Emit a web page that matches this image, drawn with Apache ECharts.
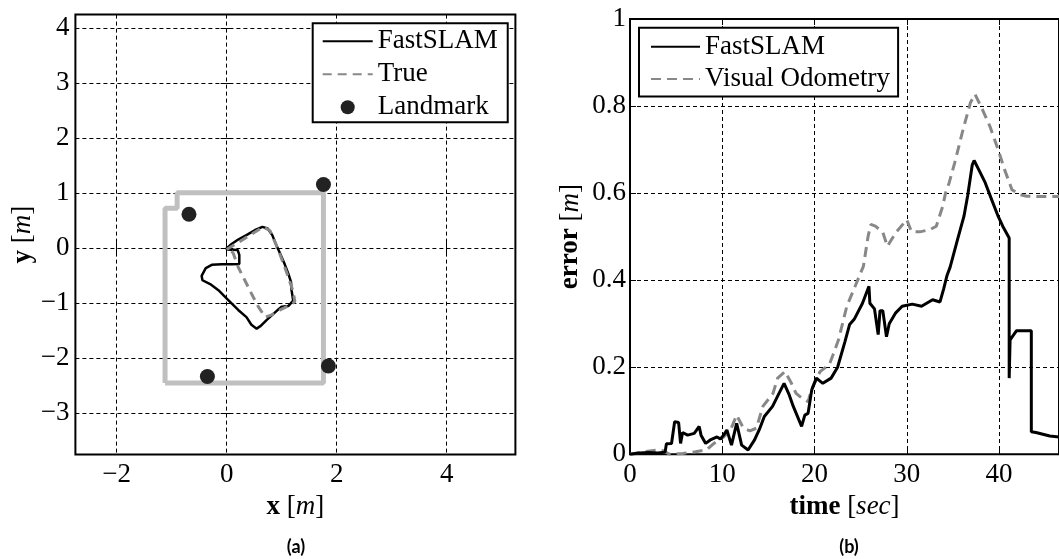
<!DOCTYPE html>
<html>
<head>
<meta charset="utf-8">
<script src="https://cdn.jsdelivr.net/npm/echarts@6/dist/echarts.min.js"></script>
<style>
    html, body { margin: 0; padding: 0; background: #fff; }
    #slamChart { width: 1059px; height: 559px; }
</style>
</head>
<body>
<div id="slamChart"></div>
<script>
// (a) trajectory, metres
var fastX = [0.0, 0.2, 0.23, 0.23, 0.09, -0.09, -0.27, -0.38, -0.455, -0.44, -0.30, -0.15, 0.03, 0.21, 0.36, 0.45, 0.545, 0.62, 0.73, 0.83, 0.94, 1.0, 1.12, 1.21, 1.18, 1.17, 1.13, 1.06, 0.97, 0.89, 0.83, 0.745, 0.65, 0.51, 0.36, 0.21, 0.09, -0.02];
var fastY = [-0.02, -0.03, -0.12, -0.285, -0.29, -0.29, -0.30, -0.36, -0.50, -0.58, -0.65, -0.76, -0.94, -1.12, -1.25, -1.39, -1.46, -1.41, -1.30, -1.21, -1.11, -1.06, -1.05, -0.95, -0.76, -0.61, -0.485, -0.30, -0.09, 0.09, 0.24, 0.36, 0.39, 0.33, 0.24, 0.16, 0.08, -0.02];
var trueX = [0.0, 0.15, 0.39, 0.665, 0.79, 0.85, 0.94, 1.03, 1.12, 1.21, 1.24, 1.12, 0.97, 0.82, 0.70, 0.575, 0.45, 0.33, 0.21, 0.12, 0.06, 0.0];
var trueY = [-0.02, 0.07, 0.22, 0.39, 0.32, 0.18, -0.03, -0.27, -0.52, -0.79, -0.97, -1.05, -1.12, -1.21, -1.25, -1.06, -0.82, -0.58, -0.34, -0.09, -0.02, -0.02];
var boxX = [-1.12, -1.12, -0.9, -0.9, 1.76, 1.76, -1.12];
var boxY = [-2.45, 0.73, 0.73, 1.01, 1.01, -2.45, -2.45];
var landmarkX = [1.76, -0.685, -0.35, 1.85];
var landmarkY = [1.16, 0.62, -2.33, -2.14];
var xTicksA = [-2, 0, 2, 4];
var yTicksA = [-3, -2, -1, 0, 1, 2, 3, 4];

// (b) error over time
var fastTime = [0, 1, 2, 3, 3.8, 3.95, 4.5, 4.84, 5.27, 5.48, 5.7, 6.25, 6.96, 7.5, 7.7, 8.2, 8.7, 9.44, 9.8, 10.15, 10.5, 11.0, 11.56, 12.1, 12.8, 13.5, 14.0, 14.56, 15.45, 16.15, 16.7, 17.25, 17.7, 18.6, 18.95, 19.3, 19.7, 20.2, 20.9, 21.8, 22.5, 23.3, 23.8, 24.3, 25.2, 25.9, 26.0, 26.5, 26.9, 27.1, 27.4, 27.8, 28.1, 28.8, 29.5, 30.6, 31.6, 32.8, 33.6, 34.0, 34.35, 34.7, 35.5, 36.2, 36.6, 37.1, 37.3, 37.8, 38.5, 39.2, 39.9, 40.4, 41.1, 41.1, 41.2, 41.9, 43.5, 43.5, 44.0, 45.5, 46.5];
var fastErr = [0, 0.003, 0.004, 0.003, 0.005, 0.024, 0.025, 0.075, 0.073, 0.025, 0.05, 0.044, 0.048, 0.064, 0.044, 0.025, 0.033, 0.04, 0.035, 0.044, 0.056, 0.021, 0.071, 0.021, 0.01, 0.033, 0.056, 0.087, 0.11, 0.14, 0.163, 0.137, 0.11, 0.064, 0.09, 0.094, 0.148, 0.175, 0.163, 0.175, 0.2, 0.259, 0.298, 0.31, 0.347, 0.386, 0.347, 0.334, 0.275, 0.33, 0.33, 0.27, 0.30, 0.325, 0.34, 0.345, 0.34, 0.355, 0.35, 0.38, 0.41, 0.43, 0.493, 0.547, 0.594, 0.665, 0.675, 0.654, 0.624, 0.585, 0.547, 0.524, 0.497, 0.175, 0.263, 0.284, 0.284, 0.052, 0.05, 0.042, 0.04];
var voTime = [0, 1.5, 3, 3.6, 4.3, 5.7, 7.1, 8.3, 9.1, 10.15, 10.9, 11.56, 12.3, 13.0, 13.7, 14.4, 15.5, 16.0, 16.8, 17.5, 18.0, 18.4, 19.3, 19.7, 20.6, 21.6, 22.0, 22.6, 23.5, 24.4, 25.3, 25.8, 26.1, 26.6, 27.4, 27.9, 28.8, 30.0, 30.5, 31.4, 32.5, 33.2, 33.9, 34.2, 34.6, 35.2, 36.1, 36.9, 37.4, 38.2, 39.0, 39.9, 40.6, 41.4, 42.2, 43.0, 44.9, 46.5];
var voErr = [0, 0.006, 0.01, 0.008, 0.0, 0.002, 0.006, 0.01, 0.025, 0.04, 0.056, 0.09, 0.06, 0.054, 0.06, 0.11, 0.14, 0.175, 0.19, 0.163, 0.14, 0.133, 0.121, 0.15, 0.19, 0.206, 0.228, 0.263, 0.34, 0.386, 0.432, 0.5, 0.528, 0.524, 0.51, 0.478, 0.509, 0.539, 0.512, 0.511, 0.516, 0.524, 0.57, 0.6, 0.624, 0.67, 0.746, 0.808, 0.827, 0.792, 0.754, 0.70, 0.654, 0.608, 0.597, 0.593, 0.592, 0.592];

var serif = 'Liberation Serif';
var fs = 27;

function zip(a, b) {
    var out = [];
    for (var i = 0; i < a.length; i++) {
        out.push([a[i], b[i]]);
    }
    return out;
}

function minus(v) {
    return String(v).replace('-', '\u2212');
}

var nameStyle = {
    fontFamily: serif, fontSize: fs, color: '#000',
    rich: {
        b: { fontFamily: serif, fontSize: fs, fontWeight: 'bold', color: '#000' },
        i: { fontFamily: serif, fontSize: fs, fontStyle: 'italic', color: '#000' }
    }
};
var gridLine = { show: true, lineStyle: { color: '#000', width: 1, type: [4, 3] } };
var tickStyle = { inside: true, length: 6, lineStyle: { color: '#000', width: 1 } };
var legendText = { fontFamily: serif, fontSize: fs, color: '#000', lineHeight: 28 };
// line entries show only the stroke, no marker dot
var noDot = { opacity: 0 };

var option = {
    animation: false,
    backgroundColor: '#fff',
    textStyle: { fontFamily: serif, fontSize: fs, color: '#000' },
    grid: [
        { left: 75.4, top: 14.6, width: 440, height: 440, show: true, borderColor: '#000', borderWidth: 2, backgroundColor: 'transparent' },
        { left: 630, top: 19, width: 438.5, height: 435.3, show: true, borderColor: '#000', borderWidth: 2, backgroundColor: 'transparent' }
    ],
    legend: [
        {
            data: [
                { name: 'FastSLAM', itemStyle: noDot },
                { name: 'True', itemStyle: noDot },
                { name: 'Landmark' }
            ],
            orient: 'vertical', left: 312.7, top: 23.3,
            padding: [4, 10, 1, 9], itemGap: 5, itemWidth: 50, itemHeight: 14,
            borderColor: '#000', borderWidth: 2, backgroundColor: '#fff',
            textStyle: legendText
        },
        {
            data: [
                { name: 'FastSLAM', itemStyle: noDot },
                { name: 'Visual Odometry', itemStyle: noDot }
            ],
            orient: 'vertical', left: 639, top: 27.7,
            padding: [5, 8, 3.5, 11], itemGap: 4.3, itemWidth: 49, itemHeight: 14,
            borderColor: '#000', borderWidth: 2, backgroundColor: '#fff',
            textStyle: legendText
        }
    ],
    xAxis: [
        {
            gridIndex: 0, type: 'value', min: -2.75, max: 5.25, position: 'bottom',
            axisLine: { show: false },
            axisTick: { inside: true, length: 6, lineStyle: { color: '#000' }, customValues: xTicksA },
            axisLabel: { fontFamily: serif, fontSize: fs, color: '#000', formatter: minus, margin: 7, customValues: xTicksA },
            splitLine: gridLine,
            name: '{b|x} [{i|m}]', nameLocation: 'middle', nameGap: 35, nameTextStyle: nameStyle
        },
        {
            gridIndex: 0, type: 'value', min: -2.75, max: 5.25, position: 'top',
            axisLine: { show: false },
            axisTick: { inside: true, length: 6, lineStyle: { color: '#000' }, customValues: xTicksA },
            axisLabel: { show: false },
            splitLine: { show: false }
        },
        {
            gridIndex: 1, type: 'value', min: 0, max: 46.5, interval: 10, position: 'bottom',
            axisLine: { show: false },
            axisTick: tickStyle,
            axisLabel: { fontFamily: serif, fontSize: fs, color: '#000', margin: 7, showMaxLabel: false },
            splitLine: gridLine,
            name: '{b|time} [{i|sec}]', nameLocation: 'middle', nameGap: 35, nameTextStyle: nameStyle
        },
        {
            gridIndex: 1, type: 'value', min: 0, max: 46.5, interval: 10, position: 'top',
            axisLine: { show: false },
            axisTick: tickStyle,
            axisLabel: { show: false },
            splitLine: { show: false }
        }
    ],
    yAxis: [
        {
            gridIndex: 0, type: 'value', min: -3.75, max: 4.25, position: 'left',
            axisLine: { show: false },
            axisTick: { inside: true, length: 6, lineStyle: { color: '#000' }, customValues: yTicksA },
            axisLabel: { fontFamily: serif, fontSize: fs, color: '#000', formatter: minus, margin: 6, customValues: yTicksA },
            splitLine: gridLine,
            name: '{b|y} [{i|m}]', nameLocation: 'middle', nameGap: 38, nameTextStyle: nameStyle
        },
        {
            gridIndex: 0, type: 'value', min: -3.75, max: 4.25, position: 'right',
            axisLine: { show: false },
            axisTick: { inside: true, length: 6, lineStyle: { color: '#000' }, customValues: yTicksA },
            axisLabel: { show: false },
            splitLine: { show: false }
        },
        {
            gridIndex: 1, type: 'value', min: 0, max: 1, interval: 0.2, position: 'left',
            axisLine: { show: false },
            axisTick: tickStyle,
            axisLabel: { fontFamily: serif, fontSize: fs, color: '#000', margin: 4 },
            splitLine: gridLine,
            name: '{b|error} [{i|m}]', nameLocation: 'middle', nameGap: 46, nameTextStyle: nameStyle
        }
    ],
    graphic: [
        { type: 'text', x: 296, y: 547, style: { text: '(a)', align: 'center', verticalAlign: 'middle', font: 'bold 18px Lato', fill: '#000' } },
        { type: 'text', x: 849, y: 547, style: { text: '(b)', align: 'center', verticalAlign: 'middle', font: 'bold 18px Lato', fill: '#000' } }
    ],
    series: [
        {
            name: 'wall', type: 'line', xAxisIndex: 0, yAxisIndex: 0,
            data: zip(boxX, boxY), symbol: 'none', z: 1,
            lineStyle: { color: '#c0c0c0', width: 5 }
        },
        {
            name: 'FastSLAM', type: 'line', xAxisIndex: 0, yAxisIndex: 0,
            data: zip(fastX, fastY), symbol: 'none', z: 2,
            lineStyle: { color: '#000', width: 2.5 }
        },
        {
            name: 'True', type: 'line', xAxisIndex: 0, yAxisIndex: 0,
            data: zip(trueX, trueY), symbol: 'none', z: 3,
            lineStyle: { color: '#888', width: 3, type: [9, 6] }
        },
        {
            name: 'Landmark', type: 'scatter', xAxisIndex: 0, yAxisIndex: 0,
            data: zip(landmarkX, landmarkY), symbol: 'circle', symbolSize: 15, z: 4,
            itemStyle: { color: '#222', opacity: 1 }
        },
        {
            name: 'FastSLAM', type: 'line', xAxisIndex: 2, yAxisIndex: 2,
            data: zip(fastTime, fastErr), symbol: 'none', z: 3,
            lineStyle: { color: '#000', width: 3 }
        },
        {
            name: 'Visual Odometry', type: 'line', xAxisIndex: 2, yAxisIndex: 2,
            data: zip(voTime, voErr), symbol: 'none', z: 2,
            lineStyle: { color: '#888', width: 3, type: [10, 6] }
        }
    ]
};

var myChart = echarts.init(document.getElementById('slamChart'));
myChart.setOption(option);
</script>
</body>
</html>
